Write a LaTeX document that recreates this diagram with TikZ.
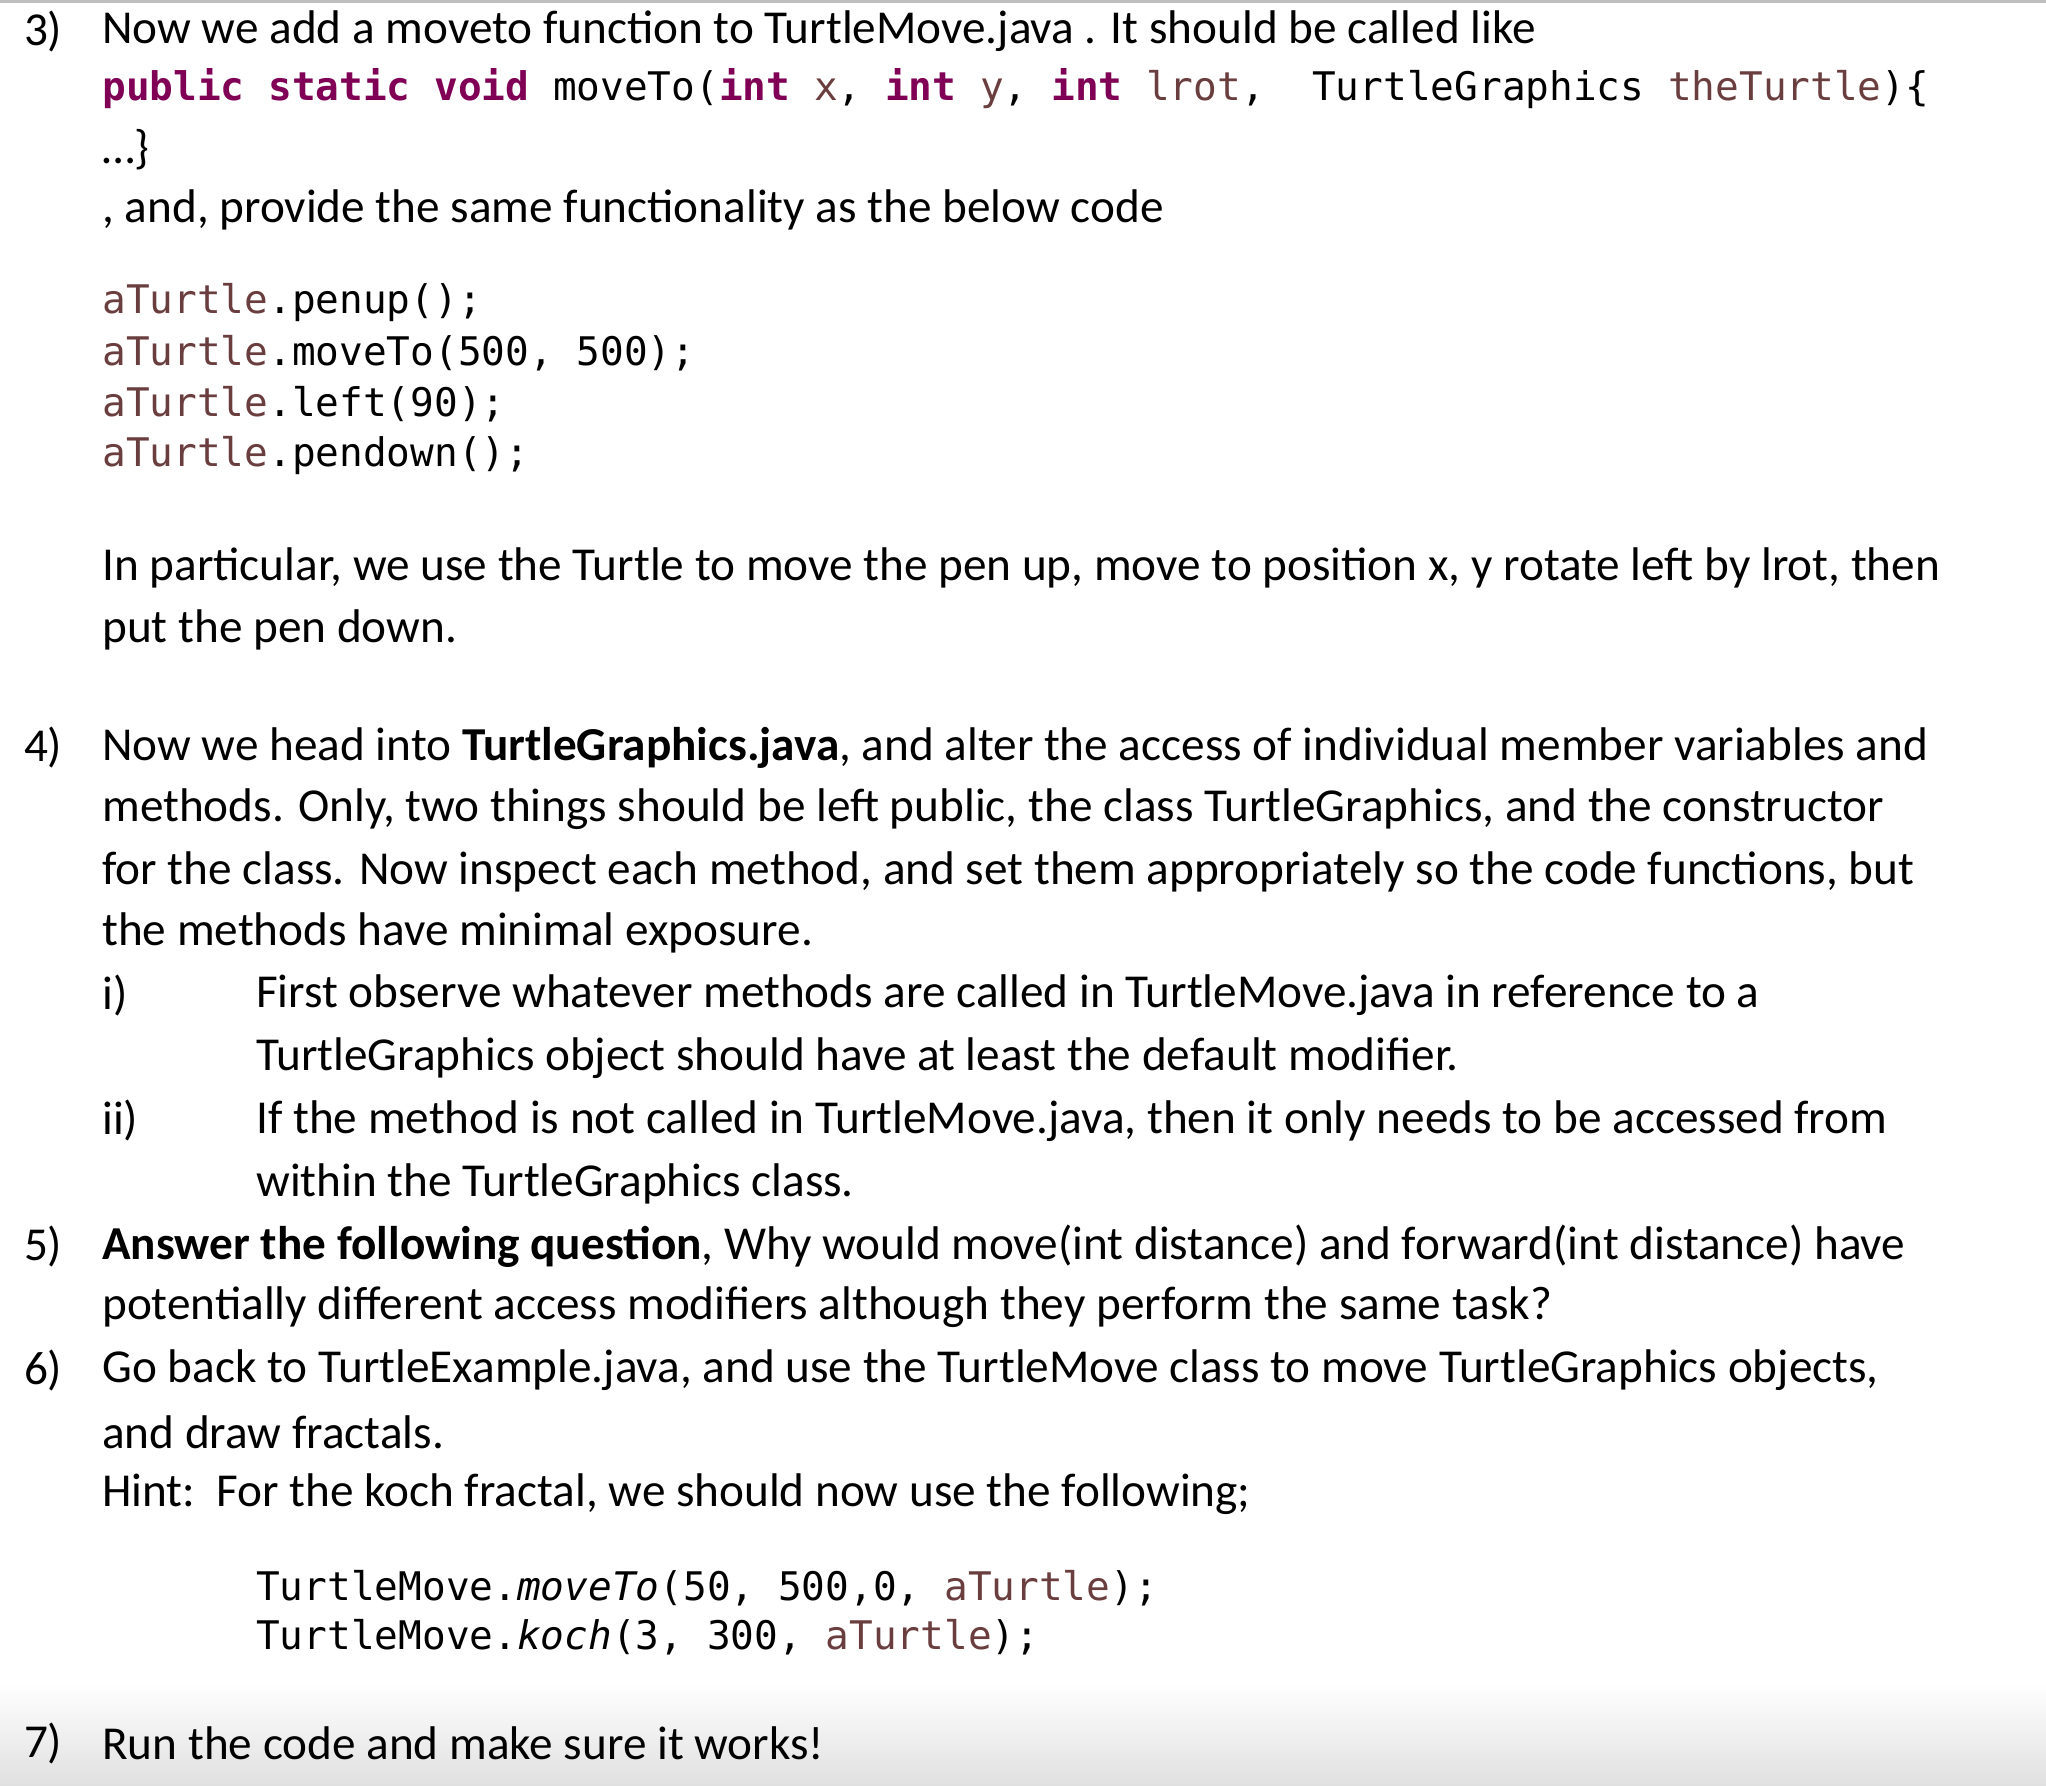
\documentclass[tikz,border=0pt]{standalone}
\usepackage{fontspec}
\setmainfont{Carlito}
\setmonofont{DejaVu Sans Mono}
\definecolor{kw}{HTML}{7F0055}
\definecolor{vr}{HTML}{6A3E3E}
\newcommand{\kw}[1]{\textcolor{kw}{\textbf{#1}}}
\newcommand{\vr}[1]{\textcolor{vr}{#1}}
\begin{document}
\begin{tikzpicture}[x=0.5pt,y=-0.5pt,
  txt/.style={anchor=west,inner sep=0pt,font=\fontsize{18.1}{20}\selectfont},
  cd/.style={anchor=west,inner sep=0pt,font=\fontsize{15.1}{17}\selectfont\ttfamily}]
\useasboundingbox (0,0) rectangle (1568,1368);
\fill[white] (0,0) rectangle (1568,1368);
\shade[top color=white,bottom color=black!12] (0,1290) rectangle (1568,1368);
\draw[black!25,line width=1pt] (0,1) -- (1568,1);
\node[txt] (n3) at (18,24) {3)};
\node[txt] (t3a) at (78,24) {Now we add a moveto function to TurtleMove.java . It should be called like};
\node[cd] (c1) at (78,68) {\kw{public} \kw{static} \kw{void} moveTo(\kw{int} \vr{x}, \kw{int} \vr{y}, \kw{int} \vr{lrot},~ TurtleGraphics \vr{theTurtle})\{};
\node[txt] (t3b) at (78,115) {…\}};
\node[txt] (t3c) at (78,161) {, and, provide the same functionality as the below code};
\node[cd] (c2) at (78,232) {\vr{aTurtle}.penup();};
\node[cd] (c3) at (78,271) {\vr{aTurtle}.moveTo(500, 500);};
\node[cd] (c4) at (78,310) {\vr{aTurtle}.left(90);};
\node[cd] (c5) at (78,349) {\vr{aTurtle}.pendown();};
\node[txt] (t3d) at (78,435) {In particular, we use the Turtle to move the pen up, move to position x, y rotate left by lrot, then};
\node[txt] (t3e) at (78,483) {put the pen down.};
\node[txt] (n4) at (18,573) {4)};
\node[txt] (t4a) at (78,573) {Now we head into \textbf{TurtleGraphics.java}, and alter the access of individual member variables and};
\node[txt] (t4b) at (78,620) {methods. Only, two things should be left public, the class TurtleGraphics, and the constructor};
\node[txt] (t4c) at (78,668) {for the class. Now inspect each method, and set them appropriately so the code functions, but};
\node[txt] (t4d) at (78,715) {the methods have minimal exposure.};
\node[txt] (ni) at (78,763) {i)};
\node[txt] (t4e) at (196,763) {First observe whatever methods are called in TurtleMove.java in reference to a};
\node[txt] (t4f) at (196,811) {TurtleGraphics object should have at least the default modifier.};
\node[txt] (nii) at (78,859) {ii)};
\node[txt] (t4g) at (196,859) {If the method is not called in TurtleMove.java, then it only needs to be accessed from};
\node[txt] (t4h) at (196,907) {within the TurtleGraphics class.};
\node[txt] (n5) at (18,955) {5)};
\node[txt] (t5a) at (78,955) {\textbf{Answer the following question}, Why would move(int distance) and forward(int distance) have};
\node[txt] (t5b) at (78,1002) {potentially different access modifiers although they perform the same task?};
\node[txt] (n6) at (18,1050) {6)};
\node[txt] (t6a) at (78,1050) {Go back to TurtleExample.java, and use the TurtleMove class to move TurtleGraphics objects,};
\node[txt] (t6b) at (78,1098) {and draw fractals.};
\node[txt] (t6c) at (78,1145) {Hint:\ \ For the koch fractal, we should now use the following;};
\node[cd] (c6) at (196,1217) {TurtleMove.\textit{moveTo}(50, 500,0, \vr{aTurtle});};
\node[cd] (c7) at (196,1255) {TurtleMove.\textit{koch}(3, 300, \vr{aTurtle});};
\node[txt] (n7) at (18,1336) {7)};
\node[txt] (t7) at (78,1336) {Run the code and make sure it works!};
\end{tikzpicture}
\end{document}
